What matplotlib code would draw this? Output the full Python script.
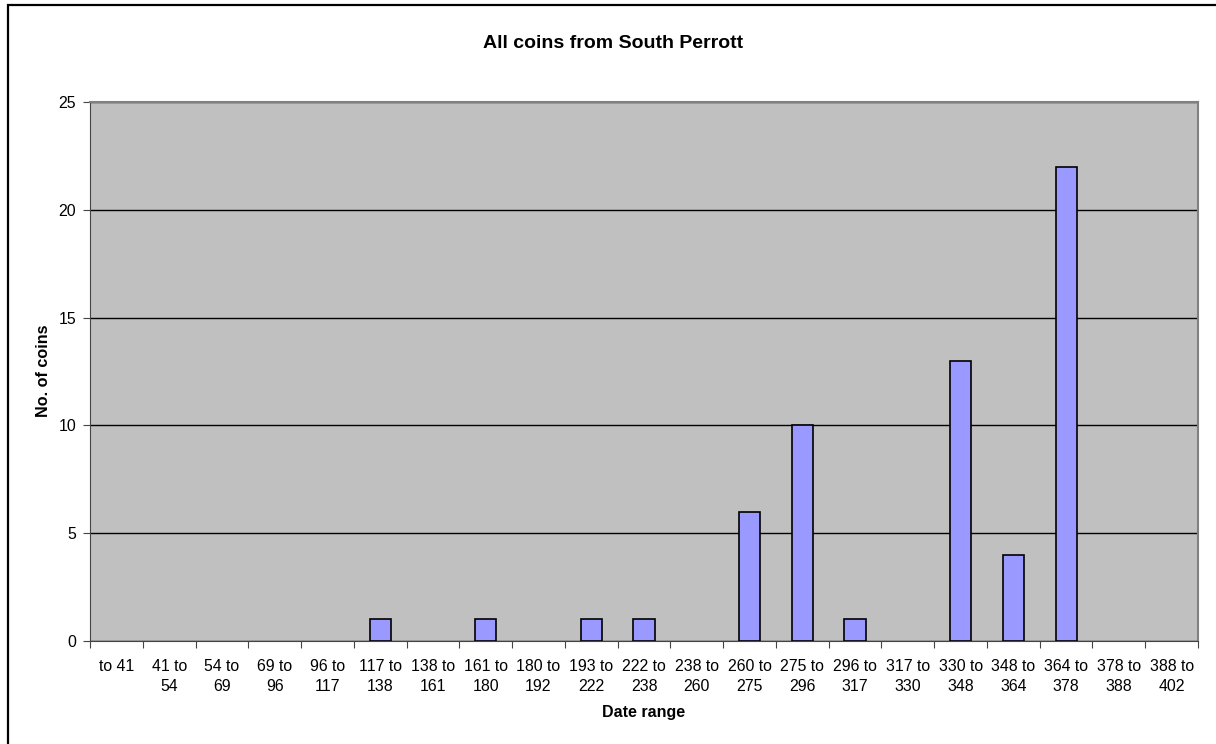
import matplotlib
matplotlib.use("Agg")
import matplotlib.pyplot as plt
from matplotlib.patches import Rectangle

# date ranges and number of coins in each
ranges = ["to 41", "41 to\n54", "54 to\n69", "69 to\n96", "96 to\n117", "117 to\n138",
          "138 to\n161", "161 to\n180", "180 to\n192", "193 to\n222", "222 to\n238",
          "238 to\n260", "260 to\n275", "275 to\n296", "296 to\n317", "317 to\n330",
          "330 to\n348", "348 to\n364", "364 to\n378", "378 to\n388", "388 to\n402"]
coins = [0, 0, 0, 0, 0, 1, 0, 1, 0, 1, 1, 0, 6, 10, 1, 0, 13, 4, 22, 0, 0]
yticks = [0, 5, 10, 15, 20, 25]

plt.rcParams['font.family'] = ['Liberation Sans', 'DejaVu Sans']

W, H = 1216, 744
fig = plt.figure(figsize=(W / 100, H / 100), dpi=100)
# outer chart border (runs off the right and bottom edges)
fig.patches.append(Rectangle((8 / W, -0.2), 1.3, 1.2 - 5 / H, transform=fig.transFigure,
                             fill=False, edgecolor="black", linewidth=1.6))

ax = fig.add_axes([90 / W, 1 - 641 / H, (1198 - 90) / W, (641 - 102) / H])
ax.set_facecolor("#c0c0c0")
x = range(len(ranges))
ax.bar(x, coins, width=0.4, color="#9999ff",
       edgecolor=["black" if c else "none" for c in coins], linewidth=1.2, zorder=3)
ax.set_xlim(-0.5, len(ranges) - 0.5)
ax.set_ylim(0, 25)
ax.set_yticks(yticks)
ax.yaxis.grid(True, color="black", linewidth=1, zorder=1)
ax.set_axisbelow(True)

# ticks at category boundaries, labels at centres
ax.set_xticks([i - 0.5 for i in range(len(ranges) + 1)])
ax.set_xticklabels([])
ax.set_xticks(list(x), minor=True)
ax.set_xticklabels(ranges, minor=True, fontsize=11.4, linespacing=1.45)
ax.tick_params(axis="x", which="minor", length=0, pad=13)
ax.tick_params(axis="x", which="major", length=5, direction="out", color="#444444")
ax.tick_params(axis="y", length=5, direction="out", labelsize=11.4, color="#444444", pad=5)

for s in ["left", "bottom"]:
    ax.spines[s].set_color("#444444")
for s in ["top", "right"]:
    ax.spines[s].set_color("#808080")
    ax.spines[s].set_linewidth(1.5)

fig.text(613 / W, 1 - 44 / H, "All coins from South Perrott",
         fontsize=14, fontweight="bold", ha="center", va="center")
fig.text(43 / W, 1 - 371 / H, "No. of coins", fontsize=11.6, fontweight="bold",
         rotation=90, ha="center", va="center")
fig.text(0.5 * (90 + 1198) / W, 1 - 713 / H, "Date range",
         fontsize=11.5, fontweight="bold", ha="center", va="center")

fig.savefig("out.png", dpi=100)
